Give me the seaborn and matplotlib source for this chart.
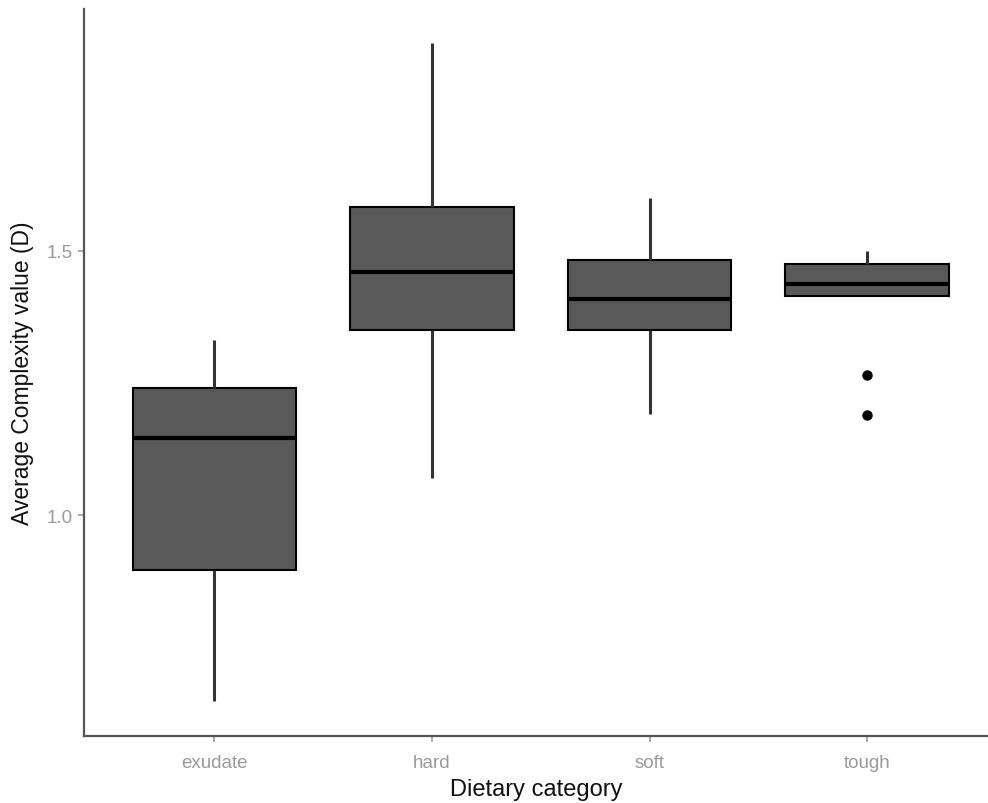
import matplotlib
matplotlib.use("Agg")
import matplotlib.pyplot as plt
import seaborn as sns
import pandas as pd

categories = ["exudate", "hard", "soft", "tough"]
exudate_vals = [0.649, 0.896, 1.147, 1.240, 1.332]
hard_vals = [1.070, 1.351, 1.460, 1.583, 1.892]
soft_vals = [1.192, 1.351, 1.408, 1.483, 1.600]
tough_vals = [1.189, 1.266, 1.415, 1.415, 1.438, 1.450, 1.475, 1.490, 1.500]
y_ticks = [1.0, 1.5]
y_tick_labels = ["1.0", "1.5"]

rows = []
for cat, vals in zip(categories, [exudate_vals, hard_vals, soft_vals, tough_vals]):
    for v in vals:
        rows.append({"diet": cat, "D": v})
df = pd.DataFrame(rows)

sns.set_style("white")
plt.rcParams["font.family"] = ["Liberation Sans", "DejaVu Sans"]

fig = plt.figure(figsize=(9.88, 8.04), dpi=100)
ax = fig.add_axes([0.085, 0.0833, 0.915, 0.9043])

sns.boxplot(data=df, x="diet", y="D", order=categories, ax=ax,
            color="#595959", saturation=1, width=0.75, showcaps=False,
            linecolor="black", linewidth=1.5,
            whiskerprops=dict(color="#333333", linewidth=2.2),
            medianprops=dict(color="black", linewidth=3),
            flierprops=dict(marker="o", markerfacecolor="black",
                            markeredgecolor="black", markersize=6.5))

for p in ax.patches:
    p.set_facecolor("#595959")
    p.set_edgecolor("black")

ax.set_xlim(-0.6, 3.556)
ax.set_ylim(0.583, 1.957)
ax.set_yticks(y_ticks)
ax.set_yticklabels(y_tick_labels)

for s in ["top", "right"]:
    ax.spines[s].set_visible(False)
for s in ["left", "bottom"]:
    ax.spines[s].set_color("#555555")
    ax.spines[s].set_linewidth(1.6)

ax.tick_params(axis="both", colors="#999999", labelsize=13.5, length=4, width=1.2,
               direction="out", bottom=True, left=True)
ax.tick_params(axis="x", pad=9)
ax.tick_params(axis="y", pad=4)
ax.set_xlabel("Dietary category", fontsize=17, color="#111111", labelpad=5)
ax.set_ylabel("Average Complexity value (D)", fontsize=16.5, color="#111111", labelpad=9)

fig.savefig("out.png", dpi=100)
